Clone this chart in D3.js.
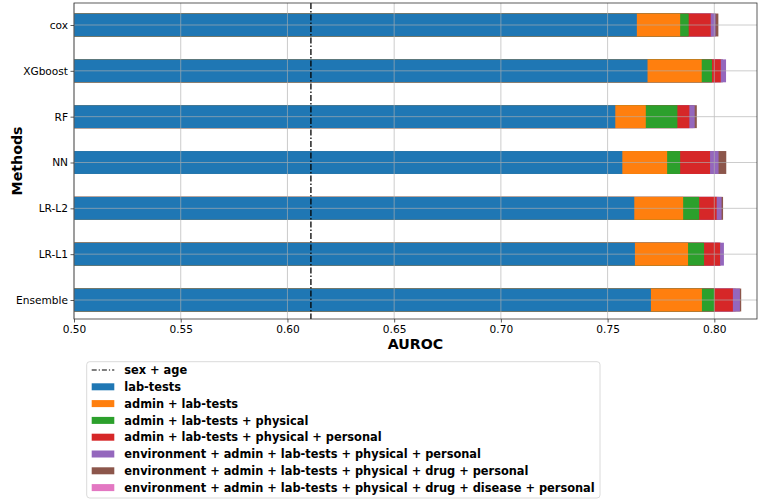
<!DOCTYPE html>
<html><head><meta charset="utf-8">
<script src="https://cdn.jsdelivr.net/npm/d3@7"></script>
<style>body{margin:0;background:#fff}svg{display:block;font-family:"DejaVu Sans",sans-serif}</style>
</head><body>
<svg id="chart" width="760" height="502"></svg>
<script>
// ---- data ----
const methods = ["cox", "XGboost", "RF", "NN", "LR-L2", "LR-L1", "Ensemble"];
const featureSets = [
  "lab-tests",
  "admin + lab-tests",
  "admin + lab-tests + physical",
  "admin + lab-tests + physical + personal",
  "environment + admin + lab-tests + physical + personal",
  "environment + admin + lab-tests + physical + drug + personal",
  "environment + admin + lab-tests + physical + drug + disease + personal"
];
const labTests         = [0.7637, 0.7687, 0.7536, 0.7569, 0.7625, 0.7628, 0.7703];
const adminLab         = [0.7840, 0.7941, 0.7679, 0.7779, 0.7854, 0.7877, 0.7942];
const adminLabPhys     = [0.7880, 0.7989, 0.7827, 0.7840, 0.7929, 0.7952, 0.8000];
const adminLabPhysPers = [0.7983, 0.8030, 0.7883, 0.7980, 0.8011, 0.8027, 0.8087];
const envPers          = [0.8006, 0.8055, 0.7908, 0.8020, 0.8034, 0.8045, 0.8120];
const envDrugPers      = [0.8019, 0.8040, 0.7918, 0.8056, 0.8041, 0.8030, 0.8126];
const envDrugDisPers   = [0.7990, 0.8010, 0.7900, 0.8000, 0.8020, 0.8020, 0.8100];
const sexAge = 0.611;
const xTicks = [0.50, 0.55, 0.60, 0.65, 0.70, 0.75, 0.80];
const colors = ["#1f77b4", "#ff7f0e", "#2ca02c", "#d62728", "#9467bd", "#8c564b", "#e377c2"];

const seriesValues = [labTests, adminLab, adminLabPhys, adminLabPhysPers, envPers, envDrugPers, envDrugDisPers];

// ---- layout ----
const svg = d3.select("#chart");
const L = 74, R = 757, T = 3, B = 319;
const x = d3.scaleLinear().domain([0.5, 0.82]).range([L, R]);
const y = d3.scalePoint().domain(methods).range([25, 300]);
const step = y.step();
const barH = step * 0.5;

// bars: overlay, largest feature set drawn first
const gBars = svg.append("g");
for (let s = seriesValues.length - 1; s >= 0; s--) {
  gBars.selectAll(null).data(methods).enter().append("rect")
    .attr("x", x(0.5))
    .attr("y", d => y(d) - barH / 2)
    .attr("width", (d, i) => x(seriesValues[s][i]) - x(0.5))
    .attr("height", barH)
    .attr("fill", colors[s]);
}

// grid (on top)
const gGrid = svg.append("g").attr("stroke", "#b0b0b0").attr("stroke-width", 0.8).attr("opacity", 0.8);
gGrid.selectAll(null).data(xTicks).enter().append("line")
  .attr("x1", d => x(d)).attr("x2", d => x(d)).attr("y1", T).attr("y2", B);
gGrid.selectAll(null).data(methods).enter().append("line")
  .attr("x1", L).attr("x2", R).attr("y1", d => y(d)).attr("y2", d => y(d));

// sex + age reference line
svg.append("line")
  .attr("x1", x(sexAge)).attr("x2", x(sexAge)).attr("y1", T).attr("y2", B)
  .attr("stroke", "#000").attr("stroke-width", 1.3).attr("stroke-dasharray", "6,2,1.5,2");

// axes
const xAxis = d3.axisBottom(x).tickValues(xTicks).tickFormat(d3.format(".2f")).tickSize(3.5).tickPadding(3);
const gx = svg.append("g").attr("transform", `translate(0,${B})`).call(xAxis);
const yAxis = d3.axisLeft(y).tickSize(3.5).tickPadding(2.5);
const gy = svg.append("g").attr("transform", `translate(${L},0)`).call(yAxis);
[gx, gy].forEach(g => {
  g.select(".domain").remove();
  g.selectAll("text").attr("font-family", "DejaVu Sans").attr("font-size", 10.6).attr("fill", "#000");
  g.selectAll("line").attr("stroke", "#333").attr("stroke-width", 0.8);
});

// frame
svg.append("rect").attr("x", L).attr("y", T).attr("width", R - L).attr("height", B - T)
  .attr("fill", "none").attr("stroke", "#333").attr("stroke-width", 0.8);

// axis labels
svg.append("text").attr("x", (L + R) / 2).attr("y", 348.5).attr("text-anchor", "middle")
  .attr("font-weight", "bold").attr("font-size", 14.2).text("AUROC");
svg.append("text").attr("transform", `translate(21.5,${(T + B) / 2}) rotate(-90)`).attr("text-anchor", "middle")
  .attr("font-weight", "bold").attr("font-size", 14.2).text("Methods");

// legend
const lg = svg.append("g");
const lx = 86.7, ly = 361.7, lw = 513.3, lh = 136.3, rowH = 16.8, y0 = 370;
lg.append("rect").attr("x", lx).attr("y", ly).attr("width", lw).attr("height", lh)
  .attr("rx", 3).attr("fill", "#fff").attr("fill-opacity", 0.8).attr("stroke", "#d0d0d0").attr("stroke-width", 0.8);
const items = [{label: "sex + age", type: "line"}].concat(featureSets.map((f, i) => ({label: f, type: "patch", color: colors[i]})));
items.forEach((it, i) => {
  const cy = y0 + i * rowH;
  if (it.type === "line") {
    lg.append("line").attr("x1", 91.7).attr("x2", 114.3).attr("y1", cy).attr("y2", cy)
      .attr("stroke", "#000").attr("stroke-width", 1.2).attr("stroke-dasharray", "5,2,1.2,2");
  } else {
    lg.append("rect").attr("x", 91.7).attr("y", cy - 3.5).attr("width", 22.6).attr("height", 7).attr("fill", it.color);
  }
  lg.append("text").attr("x", 124.3).attr("y", cy).attr("dy", "0.36em")
    .attr("font-weight", "bold").attr("font-size", 11.4).text(it.label);
});
</script>
</body></html>
